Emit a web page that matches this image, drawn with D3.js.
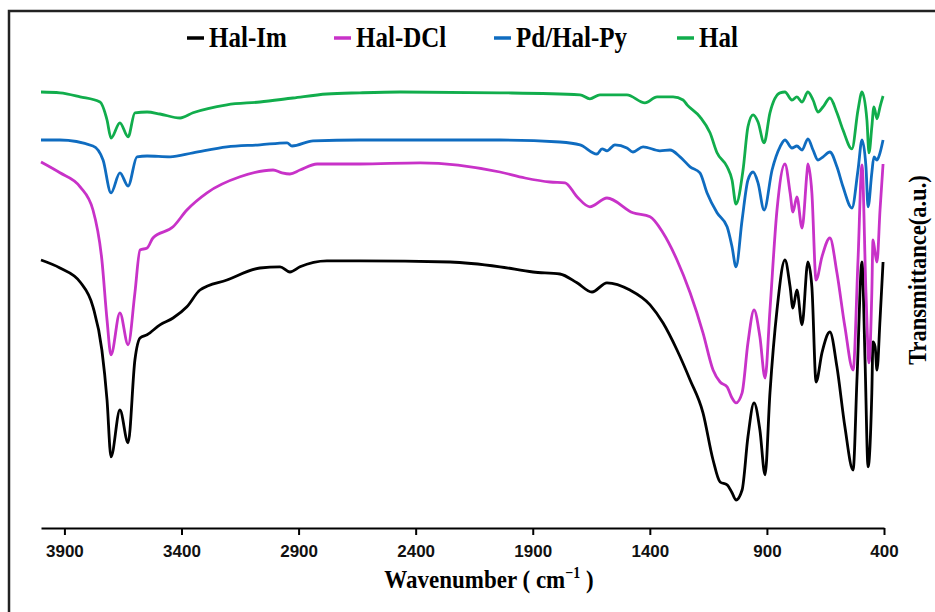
<!DOCTYPE html>
<html>
<head>
<meta charset="utf-8">
<script src="https://cdn.jsdelivr.net/npm/d3@7"></script>
<style>
  body { margin: 0; background: #fff; }
  svg { display: block; }
</style>
</head>
<body>
<div id="chart"></div>
<script>
// series names and colours (legend order)
const seriesNames = ["Hal-Im", "Hal-DCl", "Pd/Hal-Py", "Hal"];
const seriesColors = ["#000000", "#c832c8", "#0f6cc0", "#11ad4c"];

const xTicks = [3900, 3400, 2900, 2400, 1900, 1400, 900, 400];

// [wavenumber, transmittance (a.u., curves stacked)]
const halIm = [
  [4000, 65], [3919, 63], [3833, 59.5], [3778, 53.3], [3740, 42.5], [3718, 30], [3701, 15.8],
  [3663, 27.5], [3628, 19.3], [3599, 40], [3577, 45.5], [3547, 46.3], [3492, 48.8], [3436, 50.5],
  [3377, 53.3], [3321, 57.5], [3206, 60], [3065, 63], [2979, 63.3], [2937, 62], [2894, 63.3],
  [2779, 64.8], [2638, 64.8], [2253, 64.5], [2040, 63.3], [1899, 62], [1784, 61.5], [1711, 59.3],
  [1647, 57], [1583, 59.3], [1485, 57.5], [1399, 53.8], [1344, 49.3], [1284, 42.5], [1228, 35],
  [1173, 26.8], [1130, 15], [1100, 9.5], [1070, 8.8], [1049, 6.8], [1032, 5], [1006, 7.5],
  [981, 20.8], [955, 29.3], [930, 22.5], [908, 11.3], [887, 31.8], [857, 52.5], [823, 65],
  [801, 58.3], [789, 53], [772, 57.5], [750, 48.8], [725, 64.5], [708, 58.3], [690, 34.5],
  [665, 41.8], [631, 47], [601, 38.3], [567, 23.3], [532, 12.5], [515, 35.8], [494, 64.5],
  [481, 40], [468, 13.3], [452, 31.8], [447, 44.5], [438, 43.3], [430, 37.5], [417, 50], [404, 64.5]
];

const halDCl = [
  [4000, 89.5], [3919, 86.8], [3833, 83.3], [3778, 77.5], [3740, 65], [3718, 50], [3701, 41.3],
  [3663, 51.8], [3628, 43.8], [3599, 56.8], [3577, 67.5], [3547, 68], [3522, 70.5], [3436, 73.3],
  [3377, 77.5], [3291, 81.8], [3150, 85.8], [3009, 87.5], [2971, 86.8], [2937, 86.5], [2894, 87.5],
  [2821, 89], [2638, 89], [2381, 89.3], [2040, 87], [1933, 85.5], [1826, 84.5], [1762, 84.3],
  [1711, 80.8], [1656, 78.3], [1583, 80.5], [1472, 76.8], [1399, 75.8], [1344, 71.8], [1284, 65],
  [1228, 56.8], [1173, 46.8], [1130, 37.5], [1100, 34.5], [1070, 33.3], [1049, 30.5], [1032, 29.3],
  [1006, 31.8], [981, 44.3], [955, 52.5], [930, 45.8], [908, 35.5], [887, 52.5], [857, 77.5],
  [823, 89], [801, 81.8], [789, 77], [772, 80.8], [750, 73], [729, 86.8], [725, 89], [708, 81.8],
  [690, 60], [665, 65.8], [631, 70.5], [601, 61.8], [567, 48.3], [532, 37.5], [511, 65], [494, 88.8],
  [477, 56.8], [464, 39.3], [452, 56.8], [447, 70], [438, 66.8], [430, 64.5], [417, 77.5], [404, 89]
];

const pdHalPy = [
  [4000, 95], [3919, 95], [3778, 93.5], [3735, 90], [3701, 81.8], [3663, 86.8], [3628, 83.5],
  [3590, 90.8], [3547, 91], [3449, 90.8], [3351, 91.8], [3206, 93.3], [3065, 93.8], [2949, 94.3],
  [2928, 93.5], [2838, 94.8], [2638, 95], [2040, 95], [1784, 94.5], [1698, 93.8], [1626, 91.5],
  [1604, 92.8], [1583, 92.3], [1549, 93.8], [1498, 93], [1472, 92], [1429, 93.3], [1357, 92.3],
  [1314, 92.5], [1271, 90.8], [1228, 88.3], [1186, 86.8], [1156, 81.8], [1113, 76.8], [1070, 73.3],
  [1049, 68.3], [1032, 63.3], [1006, 75], [981, 85], [959, 87], [938, 84.3], [912, 77.5], [878, 87.5],
  [844, 93.3], [823, 95], [793, 93], [772, 93.5], [750, 92.5], [725, 95.3], [703, 92.5], [682, 90],
  [660, 90.8], [631, 92], [601, 88.3], [575, 83.3], [537, 78], [511, 87.5], [494, 95], [477, 88.3],
  [468, 78.3], [452, 86.8], [443, 90.8], [430, 90], [417, 91.8], [404, 95]
];

const hal = [
  [4000, 107], [3919, 106.8], [3833, 105.8], [3748, 104.5], [3718, 100], [3701, 95.5], [3663, 99.3],
  [3628, 95.8], [3599, 101.8], [3547, 102], [3492, 101.5], [3406, 100.5], [3351, 101.8], [3206, 103.8],
  [3065, 104.5], [2924, 105.5], [2779, 106.5], [2638, 106.8], [2467, 107], [2040, 106.8], [1698, 106.3],
  [1656, 105.3], [1613, 106.3], [1498, 106.3], [1421, 104.3], [1369, 105.8], [1301, 105.8], [1258, 105],
  [1241, 103.8], [1186, 100.8], [1143, 96.8], [1113, 91.8], [1070, 88.3], [1049, 85], [1032, 79],
  [1002, 87.5], [981, 98.3], [959, 101.3], [938, 99.5], [912, 94.3], [887, 101.8], [844, 106.8],
  [823, 107], [793, 105], [772, 105.8], [750, 104.5], [725, 107], [703, 105], [682, 102], [660, 103.3],
  [631, 105.5], [601, 101.8], [575, 97.5], [537, 92.8], [511, 102.5], [494, 107], [473, 100],
  [464, 91.8], [452, 98.3], [443, 103.3], [430, 100.3], [417, 103.3], [404, 106]
];

const seriesData = [halIm, halDCl, pdHalPy, hal];

const W = 935, H = 612;

const svg = d3.select("#chart").append("svg")
    .attr("width", W)
    .attr("height", H);

// outer frame (top + left edges only, like the cropped figure)
svg.append("path")
    .attr("d", `M9,612 V11 H935`)
    .attr("fill", "none")
    .attr("stroke", "#222")
    .attr("stroke-width", 2.5);

const x = d3.scaleLinear().domain([4000, 400]).range([41, 884]);
const y = d3.scaleLinear().domain([0, 110]).range([520, 80]);

// x axis
const xAxis = svg.append("g")
    .attr("transform", "translate(0,528)")
    .call(d3.axisBottom(x).tickValues(xTicks).tickSize(7).tickSizeOuter(0).tickFormat(d3.format("d")));

xAxis.select(".domain").attr("stroke", "#000").attr("stroke-width", 2);
xAxis.selectAll(".tick line").attr("stroke", "#000").attr("stroke-width", 2);
xAxis.selectAll(".tick text")
    .attr("y", 17)
    .style("font-family", "'Liberation Sans', Arial, sans-serif")
    .style("font-weight", "bold")
    .style("font-size", "17px")
    .attr("fill", "#111");

// axis titles (source figure is slightly stretched vertically)
const xTitle = svg.append("text")
    .attr("transform", "translate(489,588) scale(1,1.12)")
    .attr("text-anchor", "middle")
    .style("font-family", "'Liberation Serif', 'Times New Roman', serif")
    .style("font-weight", "bold")
    .style("font-size", "23px")
    .text("Wavenumber ( cm");
xTitle.append("tspan").attr("dy", -9).style("font-size", "14px").text("\u22121");
xTitle.append("tspan").attr("dy", 9).text(" )");

svg.append("text")
    .attr("transform", "translate(926,270) rotate(-90) scale(1,1.1)")
    .attr("text-anchor", "middle")
    .style("font-family", "'Liberation Serif', 'Times New Roman', serif")
    .style("font-weight", "bold")
    .style("font-size", "22.5px")
    .text("Transmittance(a.u.)");

// spectra
const line = d3.line()
    .x(d => x(d[0]))
    .y(d => y(d[1]))
    .curve(d3.curveMonotoneX);

svg.selectAll(".spectrum")
    .data(seriesData)
    .enter().append("path")
    .attr("class", "spectrum")
    .attr("d", line)
    .attr("fill", "none")
    .attr("stroke", (d, i) => seriesColors[i])
    .attr("stroke-width", 2.8)
    .attr("stroke-linejoin", "round");

// legend
const legendX = [187, 334, 494, 677];
const legend = svg.append("g").attr("class", "legend");
seriesNames.forEach((name, i) => {
    const g = legend.append("g").attr("transform", `translate(${legendX[i]},38)`);
    g.append("line")
        .attr("x1", 0).attr("x2", 17)
        .attr("stroke", seriesColors[i])
        .attr("stroke-width", 3.5);
    g.append("text")
        .attr("transform", "translate(22,9) scale(1,1.22)")
        .style("font-family", "'Liberation Serif', 'Times New Roman', serif")
        .style("font-weight", "bold")
        .style("font-size", "25px")
        .text(name);
});
</script>
</body>
</html>
